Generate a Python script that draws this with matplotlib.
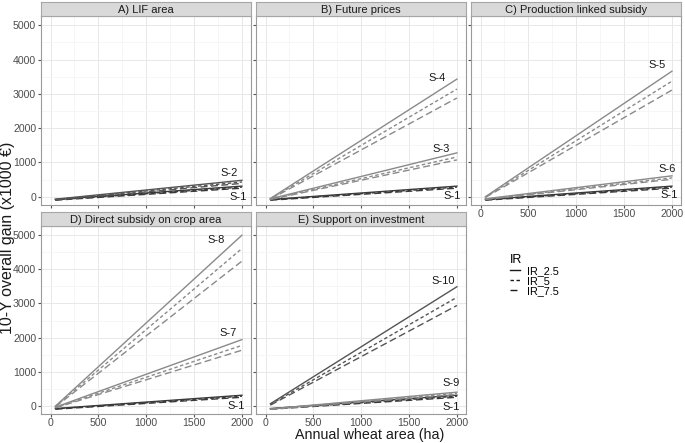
import matplotlib
matplotlib.use("Agg")
import matplotlib.pyplot as plt
from matplotlib.lines import Line2D

plt.rcParams["font.family"] = ["Liberation Sans", "DejaVu Sans"]

# x positions of the lines (ha) and values [start, end] for IR_2.5, IR_5, IR_7.5
area = [50, 2000]
rates = ["IR_2.5", "IR_5", "IR_7.5"]

s1 = [[-80, 310], [-90, 280], [-100, 250]]
s2 = [[-70, 480], [-80, 430], [-90, 390]]
s3 = [[-60, 1280], [-70, 1160], [-80, 1075]]
s4 = [[-50, 3430], [-60, 3140], [-70, 2880]]
s5 = [[0, 3660], [-10, 3370], [-20, 3110]]
s6 = [[-60, 610], [-70, 550], [-80, 510]]
s7 = [[-40, 1940], [-50, 1770], [-60, 1630]]
s8 = [[-10, 5000], [-20, 4610], [-30, 4240]]
s9 = [[-90, 400], [-95, 360], [-100, 330]]
s10 = [[60, 3490], [40, 3180], [20, 2940]]

titles = ["A) LIF area", "B) Future prices", "C) Production linked subsidy",
          "D) Direct subsidy on crop area", "E) Support on investment"]
scenarios = [("S-2", s2), ("S-3", s3, "S-4", s4), ("S-6", s6, "S-5", s5),
             ("S-7", s7, "S-8", s8), ("S-9", s9, "S-10", s10)]

# label anchor points per panel (S-1 first, then scenarios)
label_pos = [
    [(1960, -20), (1870, 700)],
    [(1950, 30), (1840, 1400), (1790, 3460)],
    [(1970, 60), (1950, 810), (1850, 3840)],
    [(1940, 0), (1860, 2120), (1730, 4850)],
    [(1940, -30), (1940, 670), (1860, 3660)],
]

styles = ["-", (0, (2.5, 1.8)), (0, (5, 2.5))]
W, H = 685, 443

fig = plt.figure(figsize=(W / 100, H / 100), dpi=100)


def box(l, t, r, b):
    return [l / W, 1 - b / H, (r - l) / W, (b - t) / H]


cols = [(41, 251), (256, 466), (471, 681)]
rows = [(2, 16, 205), (212, 226, 414)]
cells = [(0, 0), (0, 1), (0, 2), (1, 0), (1, 1)]

for i, (r, c) in enumerate(cells):
    l, rt = cols[c]
    st, t, b = rows[r]
    ax = fig.add_axes(box(l, t, rt, b))
    sax = fig.add_axes(box(l, st, rt, t))
    sax.set_facecolor("#d9d9d9")
    sax.set_xticks([])
    sax.set_yticks([])
    for sp in sax.spines.values():
        sp.set_color("#a6a6a6")
        sp.set_linewidth(0.8)
    sax.text(0.5, 0.45, titles[i], ha="center", va="center", fontsize=8,
             color="#1a1a1a", transform=sax.transAxes)

    ax.set_xlim(-100, 2095)
    ax.set_ylim(-240, 5270)
    ax.set_xticks([0, 500, 1000, 1500, 2000])
    ax.set_xticks([250, 750, 1250, 1750], minor=True)
    ax.set_yticks([0, 1000, 2000, 3000, 4000, 5000])
    ax.set_yticks([500, 1500, 2500, 3500, 4500], minor=True)
    ax.grid(True, which="major", color="#e8e8e8", lw=0.7)
    ax.grid(True, which="minor", color="#f3f3f3", lw=0.5)
    ax.set_axisbelow(True)
    for sp in ax.spines.values():
        sp.set_color("#9a9a9a")
        sp.set_linewidth(0.8)
    ax.tick_params(which="both", length=2, color="#555555", labelsize=7.6,
                   labelcolor="#4d4d4d", pad=1.5)
    ax.tick_params(axis="x", pad=1)
    ax.tick_params(which="minor", length=0)
    if c != 0:
        ax.tick_params(labelleft=False)
    if r == 0 and c != 2:
        ax.tick_params(labelbottom=False)

    sc = scenarios[i]
    groups = [("S-1", s1, "#3a3a3a")]
    for k in range(0, len(sc), 2):
        col = "#8a8a8a"
        if sc[k] in ("S-2", "S-10"):
            col = "#555555"
        groups.append((sc[k], sc[k + 1], col))
    for (name, vals, col), (lx, ly) in zip(groups, label_pos[i]):
        for v, ls in zip(vals, styles):
            ax.plot(area, v, color=col, lw=1.0, linestyle=ls)
        ax.text(lx, ly, name, ha="center", va="center", fontsize=8,
                color="#1a1a1a")

fig.text(0, 1 - 238 / H, "10-Y overall gain (x1000 €)", rotation=90,
         ha="left", va="center", fontsize=11.5, color="#1a1a1a")
fig.text(370 / W, 1 / H, "Annual wheat area (ha)", ha="center",
         va="bottom", fontsize=10.3, color="#1a1a1a")

handles = [Line2D([0], [0], color="#1a1a1a", lw=1.0, linestyle=ls)
           for ls in styles]
leg = fig.legend(handles, rates, title="IR", loc="upper left",
                 bbox_to_anchor=(510 / W, 1 - 254 / H), frameon=False,
                 fontsize=7.8, title_fontsize=9, handlelength=0.9,
                 handletextpad=0.7, labelspacing=0.0, borderaxespad=0,
                 borderpad=0)
leg._legend_box.align = "left"

fig.savefig("out.png", dpi=100)
